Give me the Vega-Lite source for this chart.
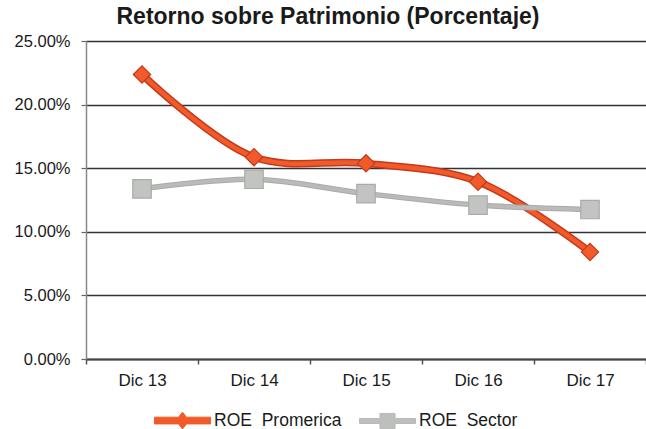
{
  "$schema": "https://vega.github.io/schema/vega-lite/v6.json",
  "autosize": "none",
  "width": 560,
  "height": 318,
  "padding": {"left": 86, "top": 41, "right": 0, "bottom": 70},
  "background": "white",
  "config": {
    "font": "Liberation Sans",
    "view": {"stroke": null},
    "axis": {"labelFont": "Liberation Sans", "labelColor": "#1a1a1a"}
  },
  "title": {
    "text": "Retorno sobre Patrimonio (Porcentaje)",
    "font": "Liberation Sans",
    "fontSize": 23,
    "fontWeight": "bold",
    "color": "#1a1a1a",
    "anchor": "middle",
    "dx": -38,
    "offset": 4
  },
  "data": {
    "values": [
      {"periodo": "Dic 13", "serie": "ROE\u00a0 Promerica", "roe": 0.2237},
      {"periodo": "Dic 14", "serie": "ROE\u00a0 Promerica", "roe": 0.1587},
      {"periodo": "Dic 15", "serie": "ROE\u00a0 Promerica", "roe": 0.1538},
      {"periodo": "Dic 16", "serie": "ROE\u00a0 Promerica", "roe": 0.1394},
      {"periodo": "Dic 17", "serie": "ROE\u00a0 Promerica", "roe": 0.0842},
      {"periodo": "Dic 13", "serie": "ROE\u00a0 Sector", "roe": 0.1337},
      {"periodo": "Dic 14", "serie": "ROE\u00a0 Sector", "roe": 0.1413},
      {"periodo": "Dic 15", "serie": "ROE\u00a0 Sector", "roe": 0.1300},
      {"periodo": "Dic 16", "serie": "ROE\u00a0 Sector", "roe": 0.1210},
      {"periodo": "Dic 17", "serie": "ROE\u00a0 Sector", "roe": 0.1175}
    ]
  },
  "encoding": {
    "x": {
      "field": "periodo",
      "type": "nominal",
      "title": null,
      "sort": null,
      "scale": {"type": "band", "paddingInner": 0, "paddingOuter": 0},
      "axis": {
        "tickBand": "extent",
        "labelAngle": 0,
        "labelFontSize": 17,
        "labelPadding": 8,
        "tickSize": 5,
        "tickColor": "#555",
        "tickWidth": 1.5,
        "domainColor": "#444",
        "domainWidth": 2,
        "grid": false
      }
    },
    "y": {
      "field": "roe",
      "type": "quantitative",
      "title": null,
      "scale": {"domain": [0, 0.25], "nice": false, "zero": true},
      "axis": {
        "values": [0, 0.05, 0.1, 0.15, 0.2, 0.25],
        "format": ".2%",
        "labelFontSize": 16.5,
        "labelPadding": 11,
        "tickSize": 5,
        "tickColor": "#666",
        "tickWidth": 1.2,
        "domainColor": "#888",
        "domainWidth": 1.5,
        "grid": true,
        "gridColor": "#333",
        "gridWidth": 1.6
      }
    }
  },
  "layer": [
    {
      "transform": [{"filter": "indexof(datum.serie, 'Promerica') >= 0"}],
      "mark": {"type": "line", "interpolate": "catmull-rom", "strokeWidth": 7.5, "color": "#c23a1c"},
      "encoding": {}
    },
    {
      "transform": [{"filter": "indexof(datum.serie, 'Promerica') >= 0"}],
      "mark": {"type": "line", "interpolate": "catmull-rom", "strokeWidth": 4.5},
      "encoding": {
        "color": {
          "field": "serie",
          "type": "nominal",
          "scale": {"domain": ["ROE\u00a0 Promerica", "ROE\u00a0 Sector"], "range": ["#f25a2a", "#b9bbb9"]},
          "legend": {
            "title": null,
            "orient": "none",
            "legendX": 68,
            "legendY": 351,
            "direction": "horizontal",
            "labelFontSize": 17.5,
            "labelColor": "#1a1a1a",
            "labelOffset": 3,
            "columnPadding": 15,
            "symbolSize": 3136,
            "encode": {
              "symbols": {
                "update": {
                  "shape": {"signal": "indexof(datum.value, 'Promerica') >= 0 ? 'M-1,-0.12H-0.14L0,-0.3L0.14,-0.12H1V0.12H0.14L0,0.3L-0.14,0.12H-1Z' : 'M-1,-0.09H-0.27V-0.27H0.27V-0.09H1V0.09H0.27V0.27H-0.27V0.09H-1Z'"},
                  "fill": {"signal": "indexof(datum.value, 'Promerica') >= 0 ? '#f25a2a' : '#bdbfbd'"},
                  "stroke": {"signal": "indexof(datum.value, 'Promerica') >= 0 ? '#c23a1c' : '#a9aba9'"},
                  "strokeWidth": {"value": 1},
                  "opacity": {"value": 1}
                }
              }
            }
          }
        }
      }
    },
    {
      "transform": [{"filter": "indexof(datum.serie, 'Promerica') >= 0"}],
      "mark": {"type": "point", "shape": "diamond", "size": 300, "filled": true, "fill": "#f25a2a", "stroke": "#c23a1c", "strokeWidth": 1.2, "opacity": 1},
      "encoding": {}
    },
    {
      "transform": [{"filter": "indexof(datum.serie, 'Sector') >= 0"}],
      "mark": {"type": "line", "interpolate": "catmull-rom", "strokeWidth": 5.5, "color": "#a9aba9"},
      "encoding": {}
    },
    {
      "transform": [{"filter": "indexof(datum.serie, 'Sector') >= 0"}],
      "mark": {"type": "line", "interpolate": "catmull-rom", "strokeWidth": 3.5},
      "encoding": {
        "color": {"field": "serie", "type": "nominal"}
      }
    },
    {
      "transform": [{"filter": "indexof(datum.serie, 'Sector') >= 0"}],
      "mark": {"type": "point", "shape": "square", "size": 340, "filled": true, "fill": "#c2c4c2", "stroke": "#a9aba9", "strokeWidth": 1.2, "opacity": 1},
      "encoding": {}
    }
  ]
}
